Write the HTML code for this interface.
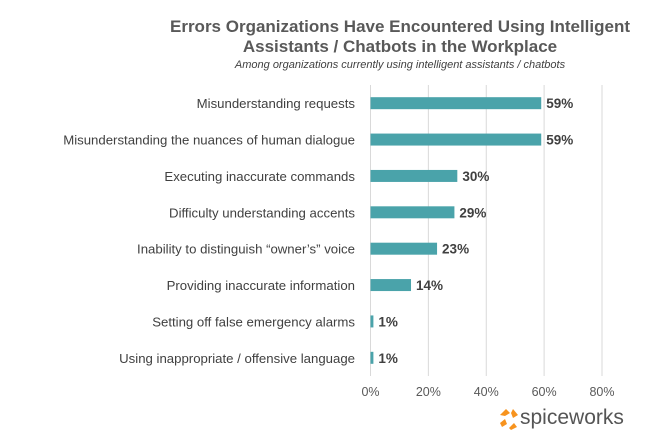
<!DOCTYPE html>
<html><head><meta charset="utf-8"><style>
body{margin:0;background:#fff;font-family:"Liberation Sans",Arial,sans-serif;}
svg text{font-family:"Liberation Sans",Arial,sans-serif;}
</style></head><body>
<svg width="646" height="442" viewBox="0 0 646 442">
<text x="400" y="32" text-anchor="middle" font-size="17" font-weight="bold" fill="#595959">Errors Organizations Have Encountered Using Intelligent</text>
<text x="400" y="52" text-anchor="middle" font-size="17" font-weight="bold" fill="#595959">Assistants / Chatbots in the Workplace</text>
<text x="400" y="68" text-anchor="middle" font-size="11" font-style="italic" fill="#404040">Among organizations currently using intelligent assistants / chatbots</text>
<g id="grid"></g><g id="bars"></g>
<g>
<g fill="#f7931e"><path d="M500 415 l6 -6 l4 4 l-5 3z"/><path d="M513 409 l5 6 l-5 3 l-2 -5z"/><path d="M500 423 l5 -4 l2 5 l-5 3z"/><path d="M509 428 l5 -5 l3 4 l-6 3z"/></g>
<text x="520" y="424" font-size="21" fill="#555">spiceworks</text>
</g>
</svg>
<script>
const categories=["Misunderstanding requests","Misunderstanding the nuances of human dialogue","Executing inaccurate commands","Difficulty understanding accents","Inability to distinguish \u201cowner\u2019s\u201d voice","Providing inaccurate information","Setting off false emergency alarms","Using inappropriate / offensive language"];
const values=[59,59,30,29,23,14,1,1];
const ticks=[0,20,40,60,80];
const NS="http://www.w3.org/2000/svg";
const x0=370.5,x80=602,plotTop=85,plotBottom=376;
const xs=v=>x0+(x80-x0)*v/80;
const step=(plotBottom-plotTop)/categories.length;
const ys=i=>plotTop+step*(i+0.5);
function mk(t,a,p){const e=document.createElementNS(NS,t);for(const k in a)e.setAttribute(k,a[k]);p.appendChild(e);return e;}
const g=document.getElementById('grid'),b=document.getElementById('bars');
ticks.forEach(t=>{
const l=mk('line',{x1:xs(t),x2:xs(t),y1:plotTop,y2:plotBottom,stroke:'#d9d9d9','stroke-width':1},g);


const tx=mk('text',{x:xs(t),y:396,'text-anchor':'middle','font-size':12.5,fill:'#595959'},g);
tx.textContent=t+'%';


});
categories.forEach((c,i)=>{
const y=ys(i);
const lb=mk('text',{x:355,y:y+5,'text-anchor':'end','font-size':13.2,fill:'#404040'},b);
lb.textContent=c;


const r=mk('rect',{x:x0,y:y-6,width:xs(values[i])-x0,height:12,fill:'#4aa3aa'},b);


const v=mk('text',{x:xs(values[i])+5,y:y+5,'font-size':13.5,'font-weight':'bold',fill:'#404040'},b);
v.textContent=values[i]+'%';


});
</script>
</body></html>
